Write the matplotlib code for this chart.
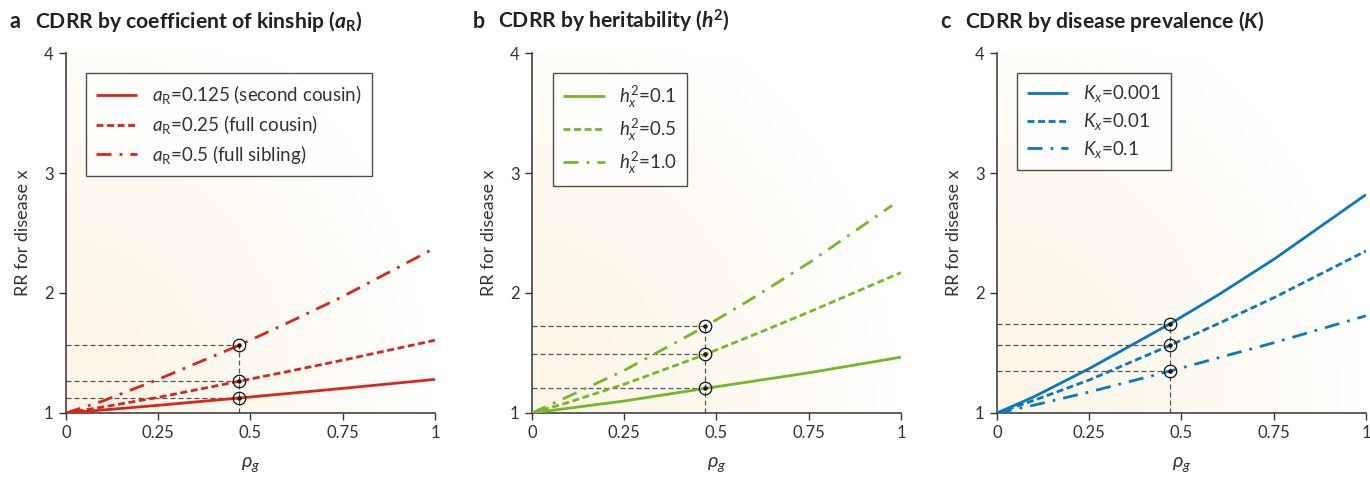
import numpy as np
import matplotlib

matplotlib.use("Agg")
import matplotlib.pyplot as plt

plt.rcParams["font.family"] = ["Lato", "DejaVu Sans"]
plt.rcParams["mathtext.fontset"] = "custom"
plt.rcParams["mathtext.rm"] = "Lato"
plt.rcParams["mathtext.it"] = "Lato:italic"
plt.rcParams["mathtext.bf"] = "Lato:bold"
plt.rcParams["mathtext.bfit"] = "Lato:italic:bold"

# genetic correlation values at which each curve was read
rho = [0, 0.1, 0.25, 0.47, 0.6, 0.75, 1.0]
rho_h10 = [0, 0.1, 0.25, 0.47, 0.6, 0.75, 0.976]
rho_mark = 0.47

# panel a: coefficient of kinship
kin_labels = [r"$a_\mathrm{R}$=0.125 (second cousin)",
              r"$a_\mathrm{R}$=0.25 (full cousin)",
              r"$a_\mathrm{R}$=0.5 (full sibling)"]
rr_kin_0125 = [1.0, 1.025, 1.064, 1.125, 1.162, 1.205, 1.28]
rr_kin_025 = [1.0, 1.05, 1.13, 1.265, 1.345, 1.44, 1.606]
rr_kin_05 = [1.0, 1.10, 1.28, 1.565, 1.75, 1.97, 2.375]

# panel b: heritability
her_labels = [r"$h^2_x$=0.1", r"$h^2_x$=0.5", r"$h^2_x$=1.0"]
rr_her_01 = [1.0, 1.04, 1.10, 1.205, 1.265, 1.335, 1.465]
rr_her_05 = [1.0, 1.09, 1.24, 1.488, 1.65, 1.84, 2.17]
rr_her_10 = [1.0, 1.14, 1.355, 1.722, 1.96, 2.25, 2.73]

# panel c: disease prevalence
prev_labels = [r"$K_x$=0.001", r"$K_x$=0.01", r"$K_x$=0.1"]
rr_prev_0001 = [1.0, 1.135, 1.37, 1.745, 1.985, 2.28, 2.82]
rr_prev_001 = [1.0, 1.105, 1.275, 1.565, 1.745, 1.96, 2.35]
rr_prev_01 = [1.0, 1.065, 1.175, 1.35, 1.46, 1.585, 1.81]

RED = "#d9261c"
GREEN = "#76b72a"
BLUE = "#0b78bd"
DASH = (2.5, 1.3)
DASHDOT = (5.4, 2.9, 1.0, 2.9)
CREAM = np.array([252, 242, 220]) / 255


def _shade(ax):
    # warm radial wash fading out from the lower-left corner
    gx, gy = np.meshgrid(np.linspace(0, 1, 240), np.linspace(0, 1, 240))
    r = np.hypot(gx / 1.0, gy / 1.2)
    w = np.clip(1 - r, 0, 1) ** 0.8
    rgba = np.zeros((240, 240, 4))
    rgba[..., :3] = CREAM
    rgba[..., 3] = w * 0.7
    ax.imshow(rgba, extent=(0, 1, 1, 4), origin="lower", aspect="auto",
              zorder=0, interpolation="bilinear")


def _panel(ax, xs_list, series, labels, color, legend_x, tag, title, title_x):
    _shade(ax)
    styles = [dict(ls="-"), dict(dashes=DASH), dict(dashes=DASHDOT)]
    marked = []
    for xs, ys, lab, st in zip(xs_list, series, labels, styles):
        ax.plot(xs, ys, color=color, lw=2.0, label=lab, zorder=3,
                solid_capstyle="butt", dash_capstyle="butt", **st)
        marked.append(ys[list(xs).index(rho_mark)])

    # guide lines down to the axes at the marked correlation
    for v in marked:
        ax.plot([0, rho_mark], [v, v], color="#555555", lw=0.9,
                dashes=(4, 2.4), zorder=2)
    ax.plot([rho_mark, rho_mark], [1, max(marked)], color="#555555", lw=0.9,
            dashes=(4, 2.4), zorder=2)
    ax.plot([rho_mark] * 3, marked, ls="none", marker="o", ms=9,
            mfc="none", mec="#111111", mew=0.9, zorder=4)
    ax.plot([rho_mark] * 3, marked, ls="none", marker="o", ms=2.2,
            color="#111111", zorder=5)

    ax.set_xlim(0, 1)
    ax.set_ylim(1, 4)
    ax.set_xticks([0, 0.25, 0.5, 0.75, 1])
    ax.set_xticklabels(["0", "0.25", "0.5", "0.75", "1"])
    ax.set_yticks([1, 2, 3, 4])
    for s in ("top", "right"):
        ax.spines[s].set_visible(False)
    for s in ("left", "bottom"):
        ax.spines[s].set_color("#333333")
        ax.spines[s].set_linewidth(1.1)
    ax.tick_params(direction="out", length=5, width=1.0, color="#333333",
                   labelsize=12, labelcolor="#333333", pad=4)
    ax.set_xlabel(r"$\rho_g$", fontsize=14.5, color="#333333", labelpad=10)
    ax.set_ylabel("RR for disease x", fontsize=13, color="#333333", labelpad=9)

    leg = ax.legend(loc="upper left", bbox_to_anchor=(legend_x, 0.944),
                    borderaxespad=0, frameon=True, fancybox=False,
                    fontsize=13.5, handlelength=2.2, handletextpad=0.75,
                    labelspacing=0.36, borderpad=0.55)
    leg.get_frame().set_edgecolor("#222222")
    leg.get_frame().set_linewidth(1.0)
    for t in leg.get_texts():
        t.set_color("#333333")

    fig = ax.figure
    fig.text(title_x, 1 - 21 / 478, tag, fontsize=15.5, fontweight="bold",
             va="center", ha="left", color="#222222")
    fig.text(title_x + 25 / 1370, 1 - 21 / 478, title, fontsize=15.2,
             fontweight="bold", va="center", ha="left", color="#222222")


fig = plt.figure(figsize=(13.7, 4.78), dpi=100)
w, h, b = 0.2693, 0.7531, 0.1360
ax_a = fig.add_axes([66 / 1370, b, w, h])
ax_b = fig.add_axes([532 / 1370, b, w, h])
ax_c = fig.add_axes([997 / 1370, b, w, h])

_panel(ax_a, [rho] * 3, [rr_kin_0125, rr_kin_025, rr_kin_05], kin_labels, RED,
       0.054, "a", r"CDRR by coefficient of kinship ($\mathbfit{a}_\mathbf{R}$)",
       10 / 1370)
_panel(ax_b, [rho, rho, rho_h10], [rr_her_01, rr_her_05, rr_her_10], her_labels,
       GREEN, 0.057, "b", r"CDRR by heritability ($\mathbfit{h}^\mathbf{2}$)",
       473 / 1370)
_panel(ax_c, [rho] * 3, [rr_prev_0001, rr_prev_001, rr_prev_01], prev_labels,
       BLUE, 0.054, "c", r"CDRR by disease prevalence ($\mathbfit{K}$)",
       940 / 1370)

fig.savefig("out.png", dpi=100)
